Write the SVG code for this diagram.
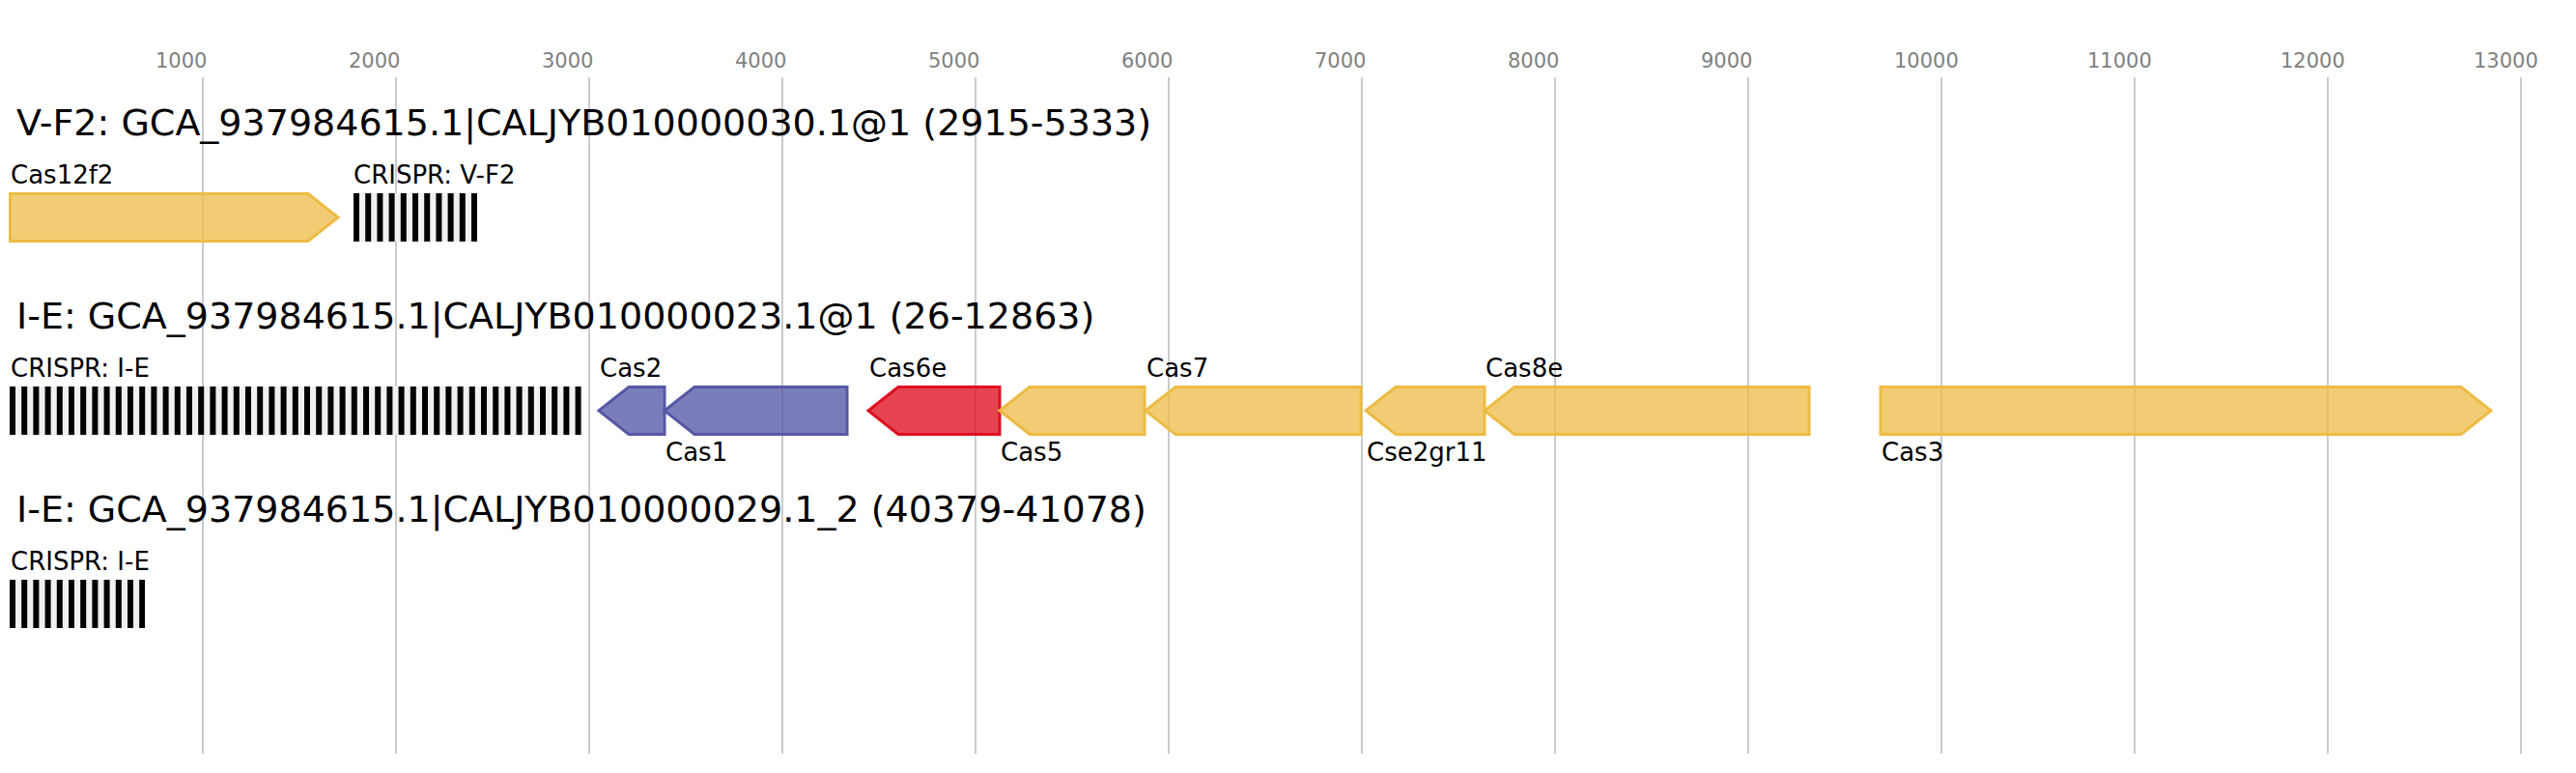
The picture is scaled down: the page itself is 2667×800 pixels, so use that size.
<svg xmlns="http://www.w3.org/2000/svg" width="2667" height="800" viewBox="0 0 2667 800">
<style>
.tick{font-family:"DejaVu Sans",sans-serif;font-size:21px;fill:#808080}
.title{font-family:"DejaVu Sans",sans-serif;font-size:38px;fill:#000}
.lbl{font-family:"DejaVu Sans",sans-serif;font-size:26px;fill:#000}
.grid{stroke:#bebebe;stroke-width:1.6}
.y{fill:#edbb45;fill-opacity:.75;stroke:#edbb45;stroke-width:3}
.b{fill:#5658a6;fill-opacity:.78;stroke:#5658a6;stroke-width:3}
.r{fill:#df1020;fill-opacity:.78;stroke:#df1020;stroke-width:3}
.arrbg{fill:#f0f0f0}
.arr{stroke:#000;stroke-width:50;stroke-dasharray:6 6.2;fill:none}
</style>
<rect width="2667" height="800" fill="#fff"/>
<g id="axis">
<g class="grid">
<line x1="210" y1="80" x2="210" y2="780"/>
<line x1="410" y1="80" x2="410" y2="780"/>
<line x1="610" y1="80" x2="610" y2="780"/>
<line x1="810" y1="80" x2="810" y2="780"/>
<line x1="1010" y1="80" x2="1010" y2="780"/>
<line x1="1210" y1="80" x2="1210" y2="780"/>
<line x1="1410" y1="80" x2="1410" y2="780"/>
<line x1="1610" y1="80" x2="1610" y2="780"/>
<line x1="1810" y1="80" x2="1810" y2="780"/>
<line x1="2010" y1="80" x2="2010" y2="780"/>
<line x1="2210" y1="80" x2="2210" y2="780"/>
<line x1="2410" y1="80" x2="2410" y2="780"/>
<line x1="2610" y1="80" x2="2610" y2="780"/>
</g>
<g class="tick">
<text x="161" y="70">1000</text>
<text x="361" y="70">2000</text>
<text x="561" y="70">3000</text>
<text x="761" y="70">4000</text>
<text x="961" y="70">5000</text>
<text x="1161" y="70">6000</text>
<text x="1361" y="70">7000</text>
<text x="1561" y="70">8000</text>
<text x="1761" y="70">9000</text>
<text x="1961" y="70">10000</text>
<text x="2161" y="70">11000</text>
<text x="2361" y="70">12000</text>
<text x="2561" y="70">13000</text>
</g>
</g>
<g id="titles" class="title">
<text x="17" y="140">V-F2: GCA_937984615.1|CALJYB010000030.1@1 (2915-5333)</text>
<text x="17" y="340">I-E: GCA_937984615.1|CALJYB010000023.1@1 (26-12863)</text>
<text x="17" y="540">I-E: GCA_937984615.1|CALJYB010000029.1_2 (40379-41078)</text>
</g>
<g id="connectors"/>
<g id="cas12f2">
<path class="y" d="M10.5,200.5 H319 L350,225 L319,249.5 H10.5 Z"/>
<text class="lbl" x="11" y="190">Cas12f2</text>
</g>
<g id="crispr-vf2">
<rect class="arrbg" x="366" y="200" width="128" height="50"/>
<line class="arr" x1="366" y1="225" x2="494" y2="225"/>
<text class="lbl" x="366" y="190">CRISPR: V-F2</text>
</g>
<g id="crispr-ie-1">
<rect class="arrbg" x="10" y="400" width="592" height="50"/>
<line class="arr" x1="10" y1="425" x2="602" y2="425"/>
<text class="lbl" x="11" y="390">CRISPR: I-E</text>
</g>
<g id="cas2">
<path class="b" d="M620,425 L651,400.5 H688 V449.5 H651 Z"/>
<text class="lbl" x="621" y="390">Cas2</text>
</g>
<g id="cas1">
<path class="b" d="M688,425 L719,400.5 H877 V449.5 H719 Z"/>
<text class="lbl" x="689" y="477">Cas1</text>
</g>
<g id="cas6e">
<path class="r" d="M899,425 L930,400.5 H1035 V449.5 H930 Z"/>
<text class="lbl" x="900" y="390">Cas6e</text>
</g>
<g id="cas5">
<path class="y" d="M1035,425 L1066,400.5 H1185 V449.5 H1066 Z"/>
<text class="lbl" x="1036" y="477">Cas5</text>
</g>
<g id="cas7">
<path class="y" d="M1186,425 L1217,400.5 H1409 V449.5 H1217 Z"/>
<text class="lbl" x="1187" y="390">Cas7</text>
</g>
<g id="cse2gr11">
<path class="y" d="M1414,425 L1445,400.5 H1537 V449.5 H1445 Z"/>
<text class="lbl" x="1415" y="477">Cse2gr11</text>
</g>
<g id="cas8e">
<path class="y" d="M1537,425 L1568,400.5 H1873 V449.5 H1568 Z"/>
<text class="lbl" x="1538" y="390">Cas8e</text>
</g>
<g id="cas3">
<path class="y" d="M1947,400.5 H2548 L2579,425 L2548,449.5 H1947 Z"/>
<text class="lbl" x="1948" y="477">Cas3</text>
</g>
<g id="crispr-ie-2">
<rect class="arrbg" x="10" y="600" width="140" height="50"/>
<line class="arr" x1="10" y1="625" x2="150" y2="625"/>
<text class="lbl" x="11" y="590">CRISPR: I-E</text>
</g>
</svg>
